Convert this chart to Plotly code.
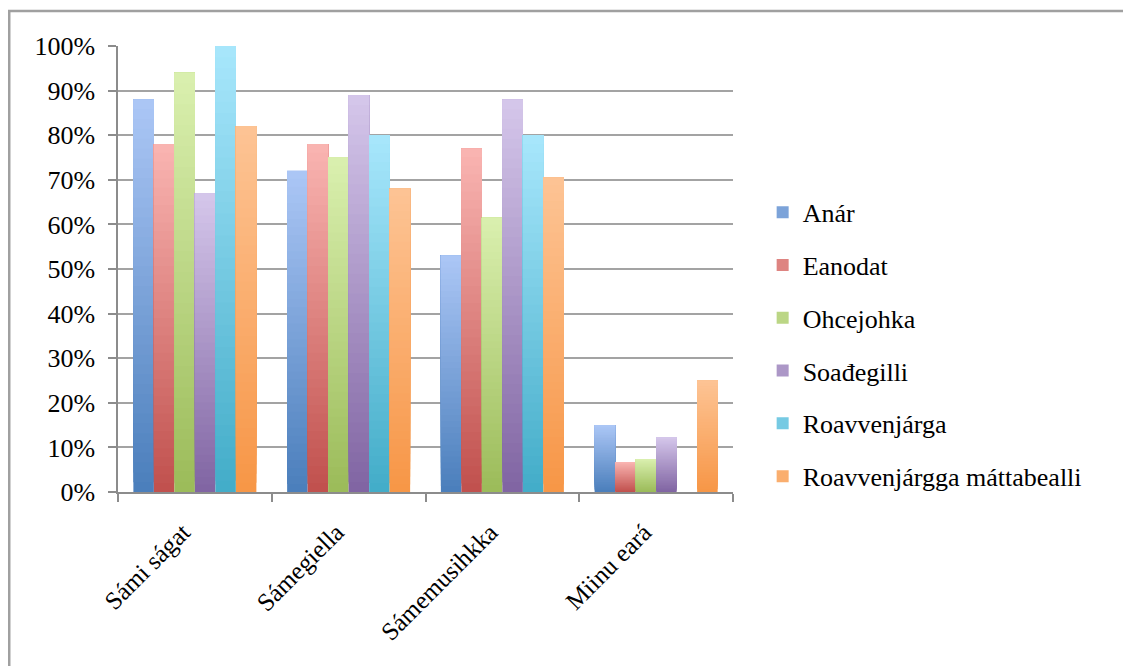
import plotly.graph_objects as go

categories = ["Sámi ságat", "Sámegiella", "Sámemusihkka", "Miinu eará"]
series_names = ["Anár", "Eanodat", "Ohcejohka", "Soađegilli", "Roavvenjárga",
                "Roavvenjárgga máttabealli"]
anar = [0.88, 0.72, 0.53, 0.15]
eanodat = [0.78, 0.78, 0.77, 0.067]
ohcejohka = [0.94, 0.75, 0.615, 0.074]
soadegilli = [0.67, 0.89, 0.88, 0.123]
roavvenjarga = [1.00, 0.80, 0.80, None]
mattabealli = [0.82, 0.68, 0.705, 0.25]
y_ticks = [0, 0.1, 0.2, 0.3, 0.4, 0.5, 0.6, 0.7, 0.8, 0.9, 1.0]

values = [anar, eanodat, ohcejohka, soadegilli, roavvenjarga, mattabealli]
# gradient colours per series: (bottom, top)
grad = [
    ((74, 126, 187), (172, 199, 246)),
    ((192, 80, 77), (250, 181, 178)),
    ((155, 187, 89), (218, 240, 175)),
    ((128, 100, 162), (213, 199, 235)),
    ((66, 172, 200), (168, 231, 252)),
    ((247, 150, 70), (253, 196, 149)),
]

FONT = "Liberation Serif"
NSEG = 40


def mix(c0, c1, t):
    return "rgb(%d,%d,%d)" % tuple(round(a + (b - a) * t) for a, b in zip(c0, c1))


fig = go.Figure()
for i, (name, vals, (cb, ct)) in enumerate(zip(series_names, values, grad)):
    # each layer runs from a fraction of the value up to the full value,
    # drawn bottom-to-top so the layers overlap without seams (vertical gradient)
    for k in range(NSEG):
        t = (k + 0.5) / NSEG
        frac = k / NSEG
        seg_base = [None if v is None else v * frac for v in vals]
        seg_y = [None if v is None else v * (1 - frac) for v in vals]
        fig.add_trace(go.Bar(
            x=categories, y=seg_y, base=seg_base,
            offsetgroup=str(i), legendgroup=name, name=name,
            showlegend=(k == NSEG // 2),
            marker=dict(color=mix(cb, ct, t), line=dict(width=0)),
            hovertemplate=name + "<br>%{x}<extra></extra>",
        ))

# the page body adds an 8px offset; the figure is sized to fill the rest
W, H = 1123, 658
ml, mr, mt, mb = 110, 398, 38, 174
pw = W - ml - mr
ph = H - mt - mb

# outer frame (continues past the right and bottom edges of the picture)
fx = (0 - ml) / pw
fy = (H - mb - 3) / ph
fig.add_shape(type="line", xref="paper", yref="paper", x0=fx, x1=2.0, y0=fy, y1=fy,
              line=dict(color="#a0a0a0", width=2.5), layer="above")
fig.add_shape(type="line", xref="paper", yref="paper", x0=fx + 0.002, x1=fx + 0.002,
              y0=fy, y1=-1.0, line=dict(color="#a0a0a0", width=2.5), layer="above")

fig.update_layout(
    width=W, height=H,
    margin=dict(l=ml, r=mr, t=mt, b=mb, autoexpand=False),
    paper_bgcolor="white", plot_bgcolor="white",
    barmode="group", bargap=0.2, bargroupgap=0,
    font=dict(family=FONT, size=25, color="#000000"),
    legend=dict(
        xref="container", yref="container",
        x=0.672, y=0.489, xanchor="left", yanchor="middle",
        font=dict(family=FONT, size=26, color="#000000"),
        tracegroupgap=16, itemwidth=30, bgcolor="rgba(0,0,0,0)",
    ),
    showlegend=True,
)
fig.update_xaxes(
    type="category", tickangle=-45, tickson="boundaries",
    ticks="outside", ticklen=8, tickcolor="#8c8c8c", tickwidth=1.5,
    showline=True, linecolor="#8c8c8c", linewidth=1.5,
    showgrid=False, tickfont=dict(family=FONT, size=25, color="#000000"),
    ticklabelstandoff=14, ticklabelshift=-12,
)
fig.update_yaxes(
    range=[0, 1.0], tickvals=y_ticks, tickformat=".0%",
    ticks="outside", ticklen=8, tickcolor="#8c8c8c", tickwidth=1.5,
    showline=True, linecolor="#8c8c8c", linewidth=1.5,
    showgrid=True, gridcolor="#a3a3a3", gridwidth=1.5,
    zeroline=False, tickfont=dict(family=FONT, size=26, color="#000000"),
    ticklabelstandoff=8,
)

fig.write_html("out.html")
